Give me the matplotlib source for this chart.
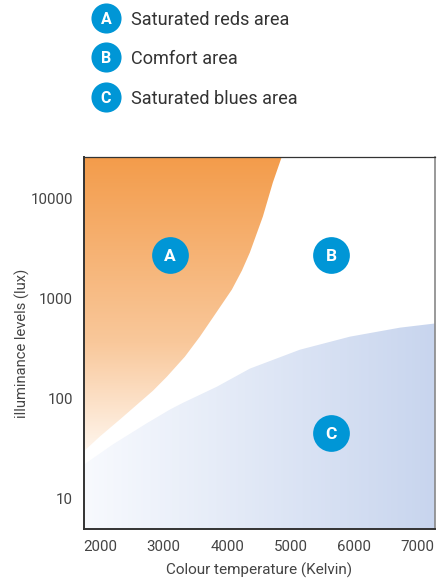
import numpy as np
import matplotlib
matplotlib.use("Agg")
import matplotlib.pyplot as plt
from matplotlib.colors import LinearSegmentedColormap

plt.rcParams['font.family'] = ['Roboto', 'DejaVu Sans']

# ---- data ----
reds_temp = [1750, 2000, 2314, 2833, 3053, 3336, 3572, 3808, 4075, 4233, 4358, 4563, 4720, 4862]
reds_lux = [30, 42, 62, 120, 166, 263, 417, 692, 1230, 1905, 2884, 6607, 14454, 26303]

blues_temp = [1750, 2204, 2739, 3101, 3305, 3840, 4358, 5145, 5931, 6717, 7270]
blues_lux = [22, 35, 57, 78, 91, 132, 200, 309, 417, 513, 565]

area_letters = ["A", "B", "C"]
area_names = ["Saturated reds area", "Comfort area", "Saturated blues area"]
area_temp = [3100, 5640, 5640]
area_lux = [2750, 2750, 46]

x_ticks = [2000, 3000, 4000, 5000, 6000, 7000]
y_ticks = [10, 100, 1000, 10000]

BADGE = "#0096D6"

fig = plt.figure(figsize=(4.37, 5.8), dpi=100)
ax = fig.add_axes([84 / 437, 1 - 529 / 580, 351 / 437, 372 / 580])
ax.set_yscale('log')
ax.set_xlim(1750, 7270)
ax.set_ylim(5, 26000)

# orange region with vertical gradient
red_fill = ax.fill_between(reds_temp, reds_lux, 1e6, facecolor='none', edgecolor='none')
cmap_r = LinearSegmentedColormap.from_list(
    'r', [(0, '#FFFFFF'), (0.18, '#FFFAF5'), (0.5, '#F9C89B'), (1.0, '#F39C4B')])
grad_v = np.linspace(0, 1, 256).reshape(-1, 1)
im_r = ax.imshow(grad_v, cmap=cmap_r, extent=[0, 1, 0, 1], origin='lower',
                 transform=ax.transAxes, aspect='auto', interpolation='bilinear', zorder=1)
im_r.set_clip_path(red_fill.get_paths()[0], transform=ax.transData)

# blue region with horizontal gradient
blue_fill = ax.fill_between(blues_temp, 0.1, blues_lux, facecolor='none', edgecolor='none')
cmap_b = LinearSegmentedColormap.from_list('b', ['#F8FAFE', '#C8D5EE'])
grad_h = np.linspace(0, 1, 256).reshape(1, -1)
im_b = ax.imshow(grad_h, cmap=cmap_b, extent=[0, 1, 0, 1], origin='lower',
                 transform=ax.transAxes, aspect='auto', interpolation='bilinear', zorder=1)
im_b.set_clip_path(blue_fill.get_paths()[0], transform=ax.transData)

# area badges
ax.scatter(area_temp, area_lux, s=700, color=BADGE, zorder=3, linewidths=0)
for t, l, letter in zip(area_temp, area_lux, area_letters):
    ax.text(t, l, letter, color='white', fontsize=12.5, fontweight='bold',
            ha='center', va='center_baseline', zorder=4)

# axes styling
ax.set_xticks(x_ticks)
ax.set_xticklabels([str(v) for v in x_ticks])
ax.set_yticks(y_ticks)
ax.set_yticklabels([str(v) for v in y_ticks])
ax.yaxis.set_minor_locator(matplotlib.ticker.NullLocator())
ax.tick_params(length=0, labelsize=10.8, labelcolor='#444444', pad=8)
for s in ['left', 'bottom']:
    ax.spines[s].set_color('#333333')
    ax.spines[s].set_linewidth(1.4)
ax.spines['top'].set_color('#333333')
ax.spines['top'].set_linewidth(0.9)
ax.spines['right'].set_color('#888888')
ax.spines['right'].set_linewidth(1.2)
ax.set_xlabel('Colour temperature (Kelvin)', fontsize=11, color='#444444', labelpad=6)
ax.set_ylabel('illuminance levels (lux)', fontsize=10.6, color='#444444')
ax.yaxis.set_label_coords((22 - 84) / 351, 0.5)
ax.yaxis.label.set_va('center')

# legend on top
lax = fig.add_axes([0, 0, 1, 1])
lax.set_xlim(0, 437)
lax.set_ylim(580, 0)
lax.axis('off')
leg_y = [18, 57, 97]
lax.scatter([106] * 3, leg_y, s=470, color=BADGE, linewidths=0)
for yy, letter, name in zip(leg_y, area_letters, area_names):
    lax.text(106, yy, letter, color='white', fontsize=11.5, fontweight='bold',
             ha='center', va='center_baseline')
    lax.text(131, yy, name, color='#333333', fontsize=13.1, ha='left', va='center_baseline')

fig.savefig('out.png', dpi=100)
